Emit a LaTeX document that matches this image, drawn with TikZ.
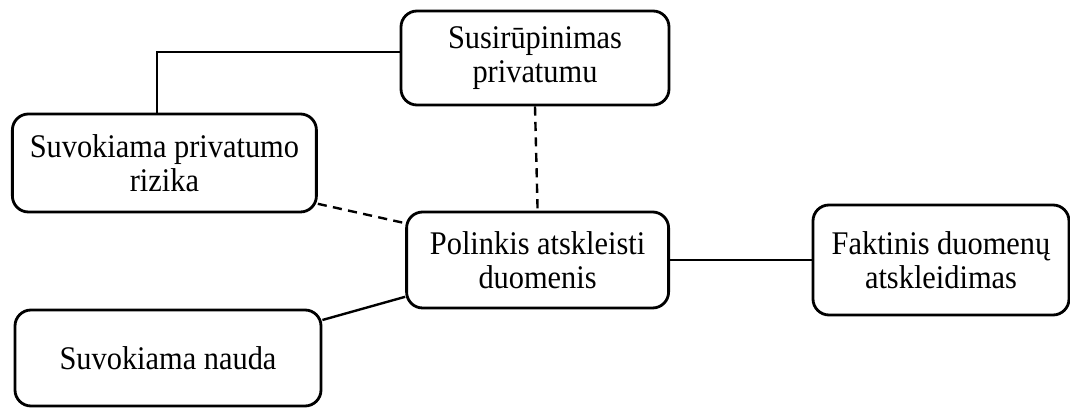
\documentclass[tikz,border=0pt]{standalone}
\usepackage{fontspec}
\setmainfont{Liberation Serif}[FakeStretch=0.92]
\usepackage{tikz}

\begin{document}
\begin{tikzpicture}[
	rbox/.style={draw, line width=2pt, rounded corners=0.4cm, align=center, inner sep=0pt,
		font=\fontsize{23.5}{24.5}\selectfont},
	link/.style={line width=1.7pt},
	dlink/.style={line width=1.7pt, dash pattern=on 6.5pt off 4.5pt}]

	\useasboundingbox (0,0) rectangle (26.75,-10.2);

	\node[rbox, minimum width=6.7cm, minimum height=2.35cm] (concern) at (13.375,-1.45) {Susirūpinimas\\privatumu};
	\node[rbox, minimum width=7.6cm, minimum height=2.45cm] (risk) at (4.11,-4.075) {Suvokiama privatumo\\rizika};
	\node[rbox, minimum width=6.55cm, minimum height=2.4cm] (incl) at (13.44,-6.5) {Polinkis atskleisti\\duomenis};
	\node[rbox, minimum width=6.4cm, minimum height=2.75cm] (actual) at (23.525,-6.5) {Faktinis duomenų\\atskleidimas};
	\node[rbox, minimum width=7.65cm, minimum height=2.4cm] (benefit) at (4.2,-8.95) {Suvokiama nauda};

	\draw[link] ([yshift=0.15cm]concern.west) -| ([xshift=-0.18cm]risk.north);
	\draw[dlink] (concern.south) -- (incl.north);
	\draw[dlink] ([yshift=-1.02cm]risk.east) -- ([yshift=0.92cm]incl.west);
	\draw[link] ([yshift=0.95cm]benefit.east) -- ([yshift=-0.92cm]incl.west);
	\draw[link] (incl.east) -- (actual.west);

\end{tikzpicture}
\end{document}
